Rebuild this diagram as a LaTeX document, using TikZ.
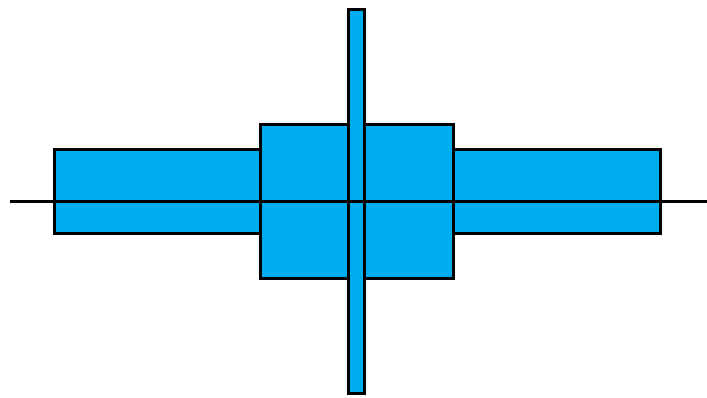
\documentclass[tikz,border=0pt]{standalone}
\definecolor{boxblue}{HTML}{00AEEF}
\tikzset{blk/.style={fill=boxblue,draw=black,line width=3pt,line join=miter}}
\begin{document}
\begin{tikzpicture}[x=1pt,y=-1pt]
\useasboundingbox (0,0) rectangle (707,397);
% side arms
\draw[blk] (54,149) rectangle (260,233);
\draw[blk] (453,149) rectangle (660,233);
% central square
\draw[blk] (260,124) rectangle (453,278);
% vertical bar
\draw[blk] (348,9) rectangle (364,393);
% horizontal axis
\draw[line width=3pt] (10,201) -- (707,201);
\end{tikzpicture}
\end{document}
